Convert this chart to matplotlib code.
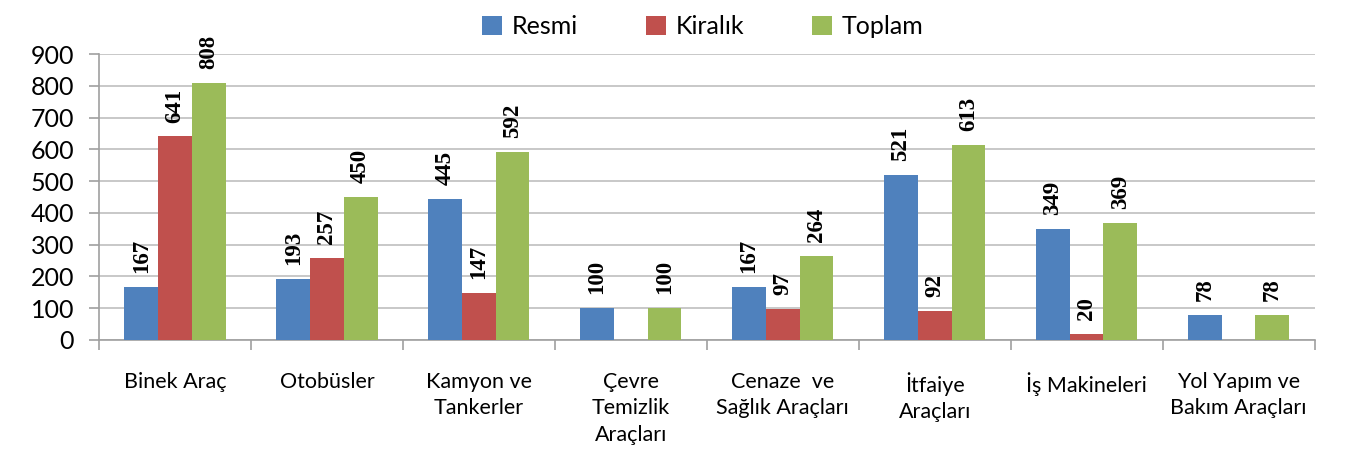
import matplotlib
matplotlib.use("Agg")
import matplotlib.pyplot as plt
import numpy as np

categories = ["Binek Araç", "Otobüsler", "Kamyon ve\nTankerler", "Çevre\nTemizlik\nAraçları",
              "Cenaze  ve\nSağlık Araçları", "İtfaiye\nAraçları", "İş Makineleri",
              "Yol Yapım ve\nBakım Araçları"]
resmi = [167, 193, 445, 100, 167, 521, 349, 78]
kiralik = [641, 257, 147, None, 97, 92, 20, None]
toplam = [808, 450, 592, 100, 264, 613, 369, 78]

series = [("Resmi", resmi, "#4F81BD"), ("Kiralık", kiralik, "#C0504D"), ("Toplam", toplam, "#9BBB59")]

fig = plt.figure(figsize=(13.58, 4.67), dpi=100)
ax = fig.add_axes([0.0729, 0.272, 0.8951, 0.612])

x = np.arange(len(categories))
w = 0.222
for i, (name, vals, col) in enumerate(series):
    pos = x + (i - 1) * w
    v = np.array([np.nan if a is None else a for a in vals], dtype=float)
    ax.bar(pos, np.nan_to_num(v), width=w, color=col, label=name, zorder=3)
    for p, val in zip(pos, vals):
        if val is None:
            continue
        ax.annotate(str(val), (p, val), xytext=(0, 10), textcoords="offset points",
                    rotation=90, ha="center", va="bottom",
                    fontsize=16.5, fontweight="bold", family="Liberation Serif", zorder=4)

ax.set_xlim(-0.5, len(categories) - 0.5)
ax.set_ylim(0, 900)
ax.set_yticks(np.arange(0, 901, 100))
ax.yaxis.grid(True, color="#BFBFBF", linewidth=1.2, zorder=0)
ax.set_axisbelow(True)
for s in ["top", "right"]:
    ax.spines[s].set_visible(False)
for s in ["left", "bottom"]:
    ax.spines[s].set_color("#A0A0A0")
    ax.spines[s].set_linewidth(1.2)
ax.tick_params(axis="y", direction="out", length=7, color="#A0A0A0", width=1.2,
               labelsize=18, pad=11)
ax.set_xticks(np.arange(0, len(categories) + 1) - 0.5)
ax.set_xticklabels([])
ax.tick_params(axis="x", direction="out", length=7, color="#A0A0A0", width=1.2)
for lab in ax.get_yticklabels():
    lab.set_family("Lato")
for i, c in enumerate(categories):
    ax.text(i, -100, c, ha="center", va="top", fontsize=15.5, family="Lato",
            linespacing=1.4)

leg = fig.legend(loc="upper center", bbox_to_anchor=(0.5175, 1.015), ncol=3, frameon=False,
                 prop={"family": "Lato", "size": 18}, handlelength=0.8, handleheight=0.8,
                 columnspacing=2.7, handletextpad=0.4)
fig.savefig("out.png", dpi=100)
